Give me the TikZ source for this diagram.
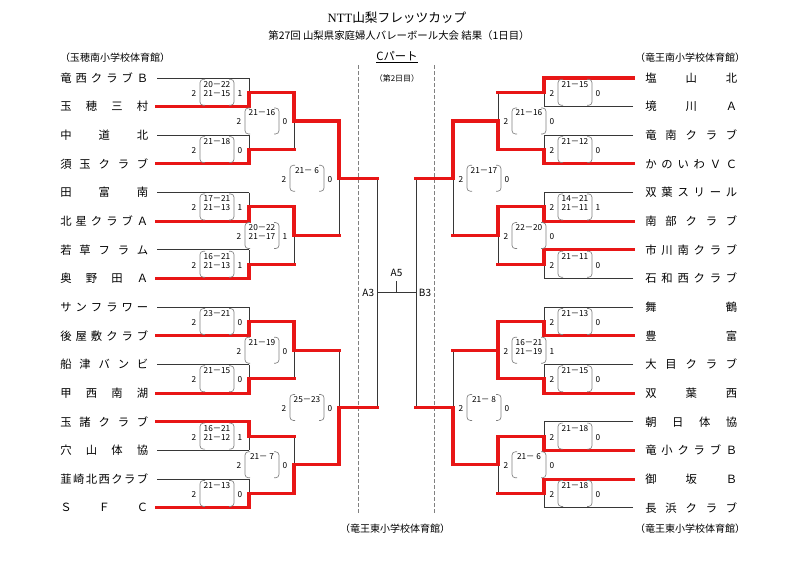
\documentclass[tikz,border=0pt]{standalone}
\usepackage{fontspec}
\setmainfont{Liberation Serif}
\newfontfamily\jp{Noto Sans CJK JP}
\usetikzlibrary{positioning,calc}
\pgfdeclarelayer{bg}
\pgfsetlayers{bg,main}

\definecolor{winred}{RGB}{232,22,22}
\definecolor{linegray}{RGB}{55,55,55}

% put the characters of a team name evenly over the width
\def\spreadchars#1{\spreadA#1\relax}
\def\spreadA#1#2\relax{#1\ifx\relax#2\relax\else\hfill\spreadA#2\relax\fi}
\newcommand{\teamname}[2]{\makebox[#1]{\expandafter\spreadchars\expandafter{#2}}}

% one match: name, upper entry, lower entry, step to next round, winner (t/b)
\newcommand{\bmatch}[5]{%
  \coordinate (#1t) at (#2);
  \coordinate (#1b) at (#3);
  \coordinate (#1m) at ($(#1t)!0.5!(#1b)$);
  \path (#1m) ++(#4,0) coordinate (#1o);
  \begin{pgfonlayer}{bg}\draw[lost] (#1t) -- (#1b);\end{pgfonlayer}
  \draw[won] (#1#5) -- (#1m) -- (#1o);
}

% score in brackets: centre, first set, second set, sets lost, name
\newcommand{\scorebox}[5]{%
  \coordinate (#5c) at (#1);
  \draw[brk] ($(#5c)+(-12,-13)$) -- ++(-5,0) -- ++(0,26) -- ++(5,0);
  \draw[brk] ($(#5c)+(12,-13)$) -- ++(5,0) -- ++(0,26) -- ++(-5,0);
  \node[sc] (#5g1) at ($(#5c)+(0,-8)$) {#2};
  \node[sc] (#5g2) at ($(#5c)+(0,1)$) {#3};
  \node[sc] (#5w) at ($(#5c)+(-23,1)$) {2};
  \node[sc] (#5l) at ($(#5c)+(23,1)$) {#4};
}

\begin{document}
\begin{tikzpicture}[x=0.75pt, y=-0.75pt,
  team/.style={font=\jp\fontsize{8.5}{9}\selectfont, inner sep=0pt, anchor=west},
  lost/.style={draw=linegray, line width=0.7pt},
  won/.style={draw=winred, line width=2.3pt, line cap=rect},
  brk/.style={draw=gray, line width=0.5pt, rounded corners=2.5pt},
  sc/.style={font=\jp\fontsize{6.2}{6.5}\selectfont, inner sep=0pt},
  hall/.style={font=\jp\fontsize{7.5}{8}\selectfont, inner sep=0pt},
  final/.style={font=\jp\fontsize{7.5}{8}\selectfont, inner sep=0pt},
  daybreak/.style={draw=gray, line width=0.6pt, dash pattern=on 3pt off 1.5pt}]
\useasboundingbox (0,0) rectangle (800,582);

% headings
\node[font=\fontsize{9.5}{10}\selectfont, inner sep=0pt] (title) at (397,18) {NTT{\jp 山梨フレッツカップ}};
\node[font=\jp\fontsize{7.8}{8}\selectfont, inner sep=0pt] (subtitle) at (399,36) {第27回\ 山梨県家庭婦人バレーボール大会\ 結果（1日目）};
\node[hall] (hallA) at (115,58) {（玉穂南小学校体育館）};
\node[hall] (hallB) at (690,58) {（竜王南小学校体育館）};
\node[hall] (hallC) at (395,529) {（竜王東小学校体育館）};
\node[hall] (hallD) at (690,529) {（竜王東小学校体育館）};
\node[font=\jp\fontsize{8.5}{9}\selectfont, inner sep=0pt] (part) at (397,57) {\underline{Cパート}};
\node[font=\jp\fontsize{6}{7}\selectfont, inner sep=0pt] (day2) at (397,78) {（第2日目）};
\coordinate (cutL) at (358,65);
\coordinate (cutR) at (434,65);
\draw[daybreak] (cutL) -- ++(0,450);
\draw[daybreak] (cutR) -- ++(0,450);

% left half
\foreach \team/\st [count=\i] in {竜西クラブＢ/lost, 玉穂三村/won, 中道北/lost, 須玉クラブ/won,
    田富南/lost, 北星クラブＡ/won, 若草フラム/lost, 奥野田Ａ/won,
    サンフラワー/lost, 後屋敷クラブ/won, 船津バンビ/lost, 甲西南湖/won,
    玉諸クラブ/won, 穴山体協/lost, 韮崎北西クラブ/lost, ＳＦＣ/won} {
  \pgfmathsetmacro\y{78+(\i-1)*28.65}
  \node[team] (L\i) at (60,\y) {\teamname{66pt}{\team}};
  \coordinate (Ls\i) at (157,\y);
  \coordinate (Le\i) at (249,\y);
  \draw[\st] (Ls\i) -- (Le\i);
}
\foreach \k/\win/\gone/\gtwo/\res in {1/b/20－22/21－15/1, 2/b/21－18/{}/0, 3/b/17－21/21－13/1,
    4/b/16－21/21－13/1, 5/b/23－21/{}/0, 6/b/21－15/{}/0, 7/t/16－21/21－12/1, 8/b/21－13/{}/0} {
  \pgfmathtruncatemacro\ia{2*\k-1}
  \pgfmathtruncatemacro\ib{2*\k}
  \bmatch{La\k}{Le\ia}{Le\ib}{45}{\win}
  \scorebox{$(La\k m)+(-32,0)$}{\gone}{\gtwo}{\res}{La\k}
}
\foreach \k/\win/\gone/\gtwo/\res in {1/t/21－16/{}/0, 2/t/20－22/21－17/1, 3/t/21－19/{}/0, 4/b/21－ 7/{}/0} {
  \pgfmathtruncatemacro\ia{2*\k-1}
  \pgfmathtruncatemacro\ib{2*\k}
  \bmatch{Lb\k}{La\ia o}{La\ib o}{45}{\win}
  \scorebox{$(Lb\k m)+(-32,0)$}{\gone}{\gtwo}{\res}{Lb\k}
}
\foreach \k/\win/\gone/\gtwo/\res in {1/t/21－ 6/{}/0, 2/b/25－23/{}/0} {
  \pgfmathtruncatemacro\ia{2*\k-1}
  \pgfmathtruncatemacro\ib{2*\k}
  \bmatch{Lc\k}{Lb\ia o}{Lb\ib o}{38}{\win}
  \scorebox{$(Lc\k m)+(-32,0)$}{\gone}{\gtwo}{\res}{Lc\k}
}

% right half
\foreach \team/\st [count=\i] in {塩山北/won, 境川Ａ/lost, 竜南クラブ/lost, かのいわＶＣ/won,
    双葉スリール/lost, 南部クラブ/won, 市川南クラブ/won, 石和西クラブ/lost,
    舞鶴/lost, 豊富/won, 大目クラブ/lost, 双葉西/won,
    朝日体協/lost, 竜小クラブＢ/won, 御坂Ｂ/won, 長浜クラブ/lost} {
  \pgfmathsetmacro\y{78+(\i-1)*28.65}
  \node[team] (R\i) at (645,\y) {\teamname{69pt}{\team}};
  \coordinate (Rs\i) at (633,\y);
  \coordinate (Re\i) at (544,\y);
  \draw[\st] (Rs\i) -- (Re\i);
}
\foreach \k/\win/\gone/\gtwo/\res in {1/t/21－15/{}/0, 2/b/21－12/{}/0, 3/b/14－21/21－11/1,
    4/t/21－11/{}/0, 5/b/21－13/{}/0, 6/b/21－15/{}/0, 7/b/21－18/{}/0, 8/t/21－18/{}/0} {
  \pgfmathtruncatemacro\ia{2*\k-1}
  \pgfmathtruncatemacro\ib{2*\k}
  \bmatch{Ra\k}{Re\ia}{Re\ib}{-46}{\win}
  \scorebox{$(Ra\k m)+(31,0)$}{\gone}{\gtwo}{\res}{Ra\k}
}
\foreach \k/\win/\gone/\gtwo/\res in {1/b/21－16/{}/0, 2/t/22－20/{}/0, 3/t/16－21/21－19/1, 4/t/21－ 6/{}/0} {
  \pgfmathtruncatemacro\ia{2*\k-1}
  \pgfmathtruncatemacro\ib{2*\k}
  \bmatch{Rb\k}{Ra\ia o}{Ra\ib o}{-45}{\win}
  \scorebox{$(Rb\k m)+(31,0)$}{\gone}{\gtwo}{\res}{Rb\k}
}
\draw[won] (Rb3m) -- (Rb3b);
\foreach \k/\win/\gone/\gtwo/\res in {1/t/21－17/{}/0, 2/b/21－ 8/{}/0} {
  \pgfmathtruncatemacro\ia{2*\k-1}
  \pgfmathtruncatemacro\ib{2*\k}
  \bmatch{Rc\k}{Rb\ia o}{Rb\ib o}{-37}{\win}
  \scorebox{$(Rc\k m)+(31,0)$}{\gone}{\gtwo}{\res}{Rc\k}
}

% final
\begin{pgfonlayer}{bg}
\draw[lost] (Lc1o) -- (Lc2o);
\draw[lost] (Rc1o) -- (Rc2o);
\end{pgfonlayer}
\coordinate (A3) at ($(Lc1o)!0.5!(Lc2o)$);
\coordinate (B3) at ($(Rc1o)!0.5!(Rc2o)$);
\coordinate (A5) at ($(A3)!0.5!(B3)$);
\draw[lost] (A3) -- (B3);
\draw[lost] (A5) -- ++(0,-12) coordinate (A5top);
\node[final, left=2pt of A3] (A3lbl) {A3};
\node[final, right=2pt of B3] (B3lbl) {B3};
\node[final, above=3pt of A5top] (A5lbl) {A5};
\end{tikzpicture}
\end{document}
